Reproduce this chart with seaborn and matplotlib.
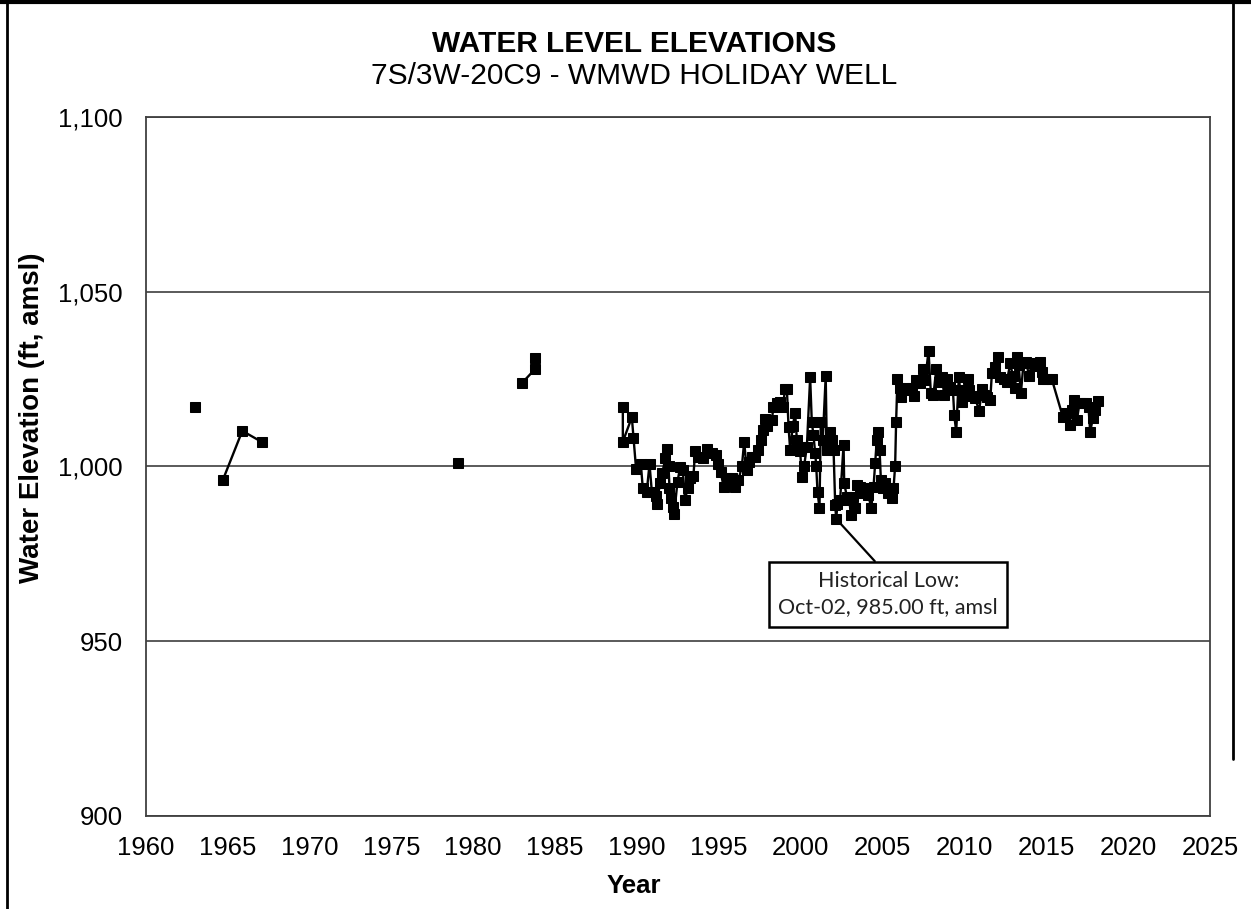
import pandas as pd
import matplotlib.pyplot as plt
import matplotlib.lines as mlines
import seaborn as sns

# each list pair is one connected run of measurements (gaps are not joined)
years_1963 = [1963.0]
elev_1963 = [1017.0]

years_1965 = [1964.7, 1965.9, 1967.1]
elev_1965 = [996.0, 1010.2, 1007.0]

years_1979 = [1979.1]
elev_1979 = [1000.9]

years_1983 = [1983.0, 1983.8, 1983.8]
elev_1983 = [1024.0, 1028.0, 1031.0]

years_recent = [
    1989.14, 1989.14, 1989.69, 1989.79, 1989.95, 1990.24, 1990.36, 1990.60, 1990.77, 1990.91,
    1991.17, 1991.21, 1991.42, 1991.54, 1991.74, 1991.82, 1991.93, 1991.99, 1992.07, 1992.23,
    1992.27, 1992.48, 1992.64, 1992.80, 1992.94, 1993.09, 1993.25, 1993.45, 1993.56, 1993.76,
    1994.06, 1994.31, 1994.57, 1994.84, 1994.98, 1995.12, 1995.29, 1995.49, 1995.80, 1996.00,
    1996.20, 1996.41, 1996.55, 1996.71, 1996.87, 1997.02, 1997.22, 1997.42, 1997.57, 1997.69,
    1997.83, 1997.93, 1998.24, 1998.34, 1998.54, 1998.75, 1998.91, 1999.05, 1999.16, 1999.26,
    1999.36, 1999.52, 1999.66, 1999.77, 1999.97, 2000.07, 2000.21, 2000.38, 2000.58, 2000.68,
    2000.78, 2000.89, 2000.95, 2001.03, 2001.15, 2001.23, 2001.35, 2001.53, 2001.60, 2001.80,
    2001.90, 2002.01, 2002.11, 2002.17, 2002.25, 2002.41, 2002.62, 2002.66, 2002.82, 2002.98,
    2003.06, 2003.19, 2003.33, 2003.47, 2003.63, 2003.80, 2003.96, 2004.14, 2004.31, 2004.45,
    2004.55, 2004.65, 2004.75, 2004.82, 2004.90, 2005.02, 2005.16, 2005.36, 2005.57, 2005.67,
    2005.77, 2005.83, 2005.91, 2006.04, 2006.12, 2006.28, 2006.44, 2006.65, 2006.79, 2006.93,
    2007.06, 2007.26, 2007.46, 2007.61, 2007.81, 2007.95, 2008.11, 2008.28, 2008.42, 2008.62,
    2008.77, 2008.93, 2009.13, 2009.30, 2009.38, 2009.50, 2009.66, 2009.74, 2009.87, 2009.99,
    2010.19, 2010.31, 2010.46, 2010.66, 2010.90, 2011.07, 2011.21, 2011.37, 2011.58, 2011.68,
    2011.88, 2012.08, 2012.19, 2012.39, 2012.59, 2012.80, 2012.96, 2013.10, 2013.20, 2013.31,
    2013.45, 2013.61, 2013.78, 2013.94, 2014.12, 2014.33, 2014.59, 2014.73, 2014.83, 2015.04,
    2015.34, 2016.02, 2016.22, 2016.42, 2016.56, 2016.71, 2016.87, 2017.03, 2017.24, 2017.44,
    2017.58, 2017.68, 2017.85, 2017.99, 2018.13,
]
elev_recent = [
    1017.0, 1007.1, 1014.1, 1008.3, 999.2, 1000.7, 993.7, 992.8, 1000.7, 992.8,
    991.6, 989.3, 995.4, 998.0, 1002.3, 1004.9, 1000.0, 993.9, 990.9, 988.5,
    986.4, 995.7, 999.8, 999.0, 990.4, 993.8, 996.6, 997.3, 1004.5, 1002.8,
    1002.3, 1004.9, 1003.8, 1003.3, 1000.7, 998.5, 994.2, 996.6, 996.6, 994.2,
    996.1, 1000.0, 1007.1, 999.0, 1001.4, 1002.8, 1002.8, 1004.7, 1007.6, 1010.5,
    1013.5, 1011.6, 1013.3, 1017.1, 1018.3, 1018.6, 1017.1, 1022.1, 1022.1, 1011.4,
    1004.7, 1011.6, 1015.4, 1007.6, 1004.3, 997.1, 1000.1, 1005.7, 1025.5, 1012.8,
    1009.0, 1003.8, 1000.1, 992.8, 988.0, 1012.8, 1007.6, 1025.9, 1004.7, 1010.0,
    1007.6, 1004.7, 989.0, 985.0, 989.4, 990.4, 1006.2, 995.2, 991.4, 990.4,
    986.1, 991.4, 988.0, 994.7, 994.2, 992.3, 993.7, 991.8, 988.0, 994.2,
    1000.9, 1007.6, 1010.0, 1004.7, 996.1, 993.7, 995.2, 992.3, 990.9, 993.7,
    1000.1, 1012.8, 1025.0, 1022.4, 1020.0, 1022.1, 1022.4, 1021.9, 1022.4, 1020.2,
    1024.8, 1023.8, 1027.8, 1024.8, 1033.2, 1021.1, 1020.5, 1027.8, 1024.3, 1025.7,
    1020.5, 1025.2, 1022.9, 1021.9, 1014.7, 1010.0, 1025.7, 1021.9, 1018.6, 1021.0,
    1025.0, 1021.9, 1020.2, 1019.5, 1016.0, 1022.1, 1020.5, 1020.0, 1019.0, 1026.9,
    1028.6, 1031.3, 1025.7, 1025.0, 1024.3, 1029.5, 1025.9, 1022.4, 1031.3, 1029.1,
    1021.0, 1029.5, 1030.0, 1025.9, 1029.5, 1028.8, 1030.0, 1027.2, 1025.0, 1025.0,
    1025.0, 1014.1, 1015.4, 1011.9, 1016.2, 1019.0, 1013.3, 1018.1, 1018.3, 1018.1,
    1017.1, 1010.0, 1013.8, 1016.2, 1018.9,
]

low_year = 2002.17
low_elev = 985.0

year_ticks = list(range(1960, 2030, 5))
elev_ticks = [900, 950, 1000, 1050, 1100]
elev_tick_labels = ["900", "950", "1,000", "1,050", "1,100"]

runs = [
    (years_1963, elev_1963),
    (years_1965, elev_1965),
    (years_1979, elev_1979),
    (years_1983, elev_1983),
    (years_recent, elev_recent),
]
df = pd.concat(
    [pd.DataFrame({"year": yrs, "elev": el, "run": i}) for i, (yrs, el) in enumerate(runs)],
    ignore_index=True,
)

sns.set_style("white")
plt.rcParams["font.family"] = ["Liberation Sans", "DejaVu Sans"]
plt.rcParams["text.color"] = "black"
plt.rcParams["xtick.labelcolor"] = "black"
plt.rcParams["ytick.labelcolor"] = "black"

W, H = 1251, 909
fig = plt.figure(figsize=(W / 100, H / 100), dpi=100)
ax = fig.add_axes([145.7 / W, 1 - 815.7 / H, (1210 - 145.7) / W, (815.7 - 117.3) / H])

sns.lineplot(
    data=df, x="year", y="elev", units="run", estimator=None, sort=False,
    color="black", marker="s", markersize=6.5, markeredgecolor="black",
    linewidth=1.7, legend=False, ax=ax,
)

ax.set_xlim(1960, 2025)
ax.set_ylim(900, 1100)
ax.set_xticks(year_ticks)
ax.set_yticks(elev_ticks)
ax.set_yticklabels(elev_tick_labels)
ax.set_xlabel("")
ax.set_ylabel("")
ax.yaxis.grid(True, color="#4d4d4d", linewidth=1.3)
ax.xaxis.grid(False)
ax.set_axisbelow(True)
for s in ax.spines.values():
    s.set_color("#404040")
    s.set_linewidth(1.3)
ax.tick_params(axis="x", direction="inout", length=13, width=1.2, color="#404040",
               labelcolor="black", labelsize=18.5, pad=8)
ax.tick_params(axis="y", length=0, labelcolor="black", labelsize=18.5, pad=16.5)

ax.annotate(
    "Historical Low:\nOct-02, 985.00 ft, amsl",
    xy=(low_year, low_elev), xytext=(2005.35, 963.4),
    ha="center", va="center", fontsize=15.5, family=["Lato", "DejaVu Sans"],
    linespacing=1.4, color="#222222",
    bbox=dict(boxstyle="square,pad=0.42", fc="white", ec="black", lw=1.8),
    arrowprops=dict(arrowstyle="-", color="black", lw=1.6, relpos=(0.48, 1.0),
                    shrinkA=0, shrinkB=0),
)

fig.text(634 / W, 1 - 44 / H, "WATER LEVEL ELEVATIONS", ha="center", va="center",
         fontsize=21.5, fontweight="bold", color="black")
fig.text(634 / W, 1 - 76 / H, "7S/3W-20C9 - WMWD HOLIDAY WELL", ha="center", va="center",
         fontsize=21.5, color="black")
fig.text(32 / W, 1 - 418 / H, "Water Elevation (ft, amsl)", ha="center", va="center",
         rotation=90, fontsize=20, fontweight="bold", color="black")
fig.text(634 / W, 1 - 886 / H, "Year", ha="center", va="center",
         fontsize=18.5, fontweight="bold", color="black")

# chart area border
fig.add_artist(mlines.Line2D([0, W], [H - 2, H - 2], transform=None, color="black", lw=3))
fig.add_artist(mlines.Line2D([7, 7], [0, H], transform=None, color="black", lw=2))
fig.add_artist(mlines.Line2D([1233, 1233], [H, 150], transform=None, color="black", lw=2))

fig.savefig("out.png", dpi=100)
